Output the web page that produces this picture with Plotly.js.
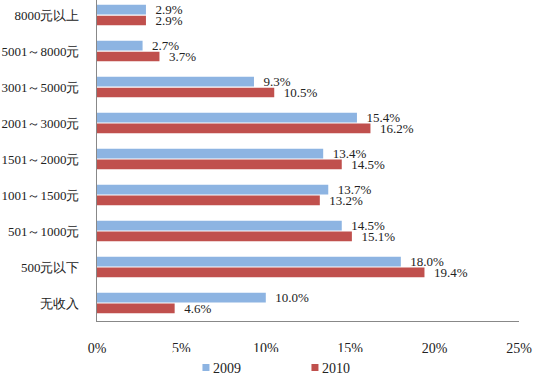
<!DOCTYPE html>
<html><head><meta charset="utf-8">
<script src="https://cdn.plot.ly/plotly-3.0.1.min.js"></script>
<style>html,body{margin:0;padding:0;background:#fff}#c{width:550px;height:388px}</style>
</head><body><div id="c"></div>
<script>
var categories = ['无收入','500元以下','501～1000元','1001～1500元','1501～2000元','2001～3000元','3001～5000元','5001～8000元','8000元以上'];
var values2009 = [10.0, 18.0, 14.5, 13.7, 13.4, 15.4, 9.3, 2.7, 2.9];
var values2010 = [4.6, 19.4, 15.1, 13.2, 14.5, 16.2, 10.5, 3.7, 2.9];
var xTicks = [0, 5, 10, 15, 20, 25];
var xTickText = ['0%', '5%', '10%', '15%', '20%', '25%'];

var fontFam = 'Liberation Serif';
function barTrace(name, vals, color) {
  return {type:'bar', orientation:'h', name:name, y:categories, x:vals,
    marker:{color:color}, texttemplate:'\u00a0\u00a0%{x:.1f}%', textposition:'outside',
    constraintext:'none', cliponaxis:false, textfont:{family:fontFam, size:13, color:'#222'}, hoverinfo:'none'};
}
var t2010 = barTrace('2010', values2010, '#C0504D');
var t2009 = barTrace('2009', values2009, '#8DB4E2');

var layout = {
  width:550, height:388, margin:{l:97, r:31, t:0, b:67},
  paper_bgcolor:'#fff', plot_bgcolor:'#fff',
  barmode:'group', bargap:0.4, bargroupgap:0.1,
  font:{family:fontFam, size:13, color:'#222'},
  showlegend:true,
  legend:{orientation:'h', traceorder:'reversed', x:0.18, xanchor:'left', y:-0.146, yanchor:'middle',
    font:{family:fontFam, size:14, color:'#222'}, entrywidth:64, entrywidthmode:'pixels', itemclick:false},
  xaxis:{range:[0,25], tickmode:'array', tickvals:xTicks, ticktext:xTickText, showgrid:false, zeroline:false,
    showline:true, linecolor:'#888', linewidth:1, ticks:'', ticklabelstandoff:14,
    tickfont:{family:fontFam, size:14, color:'#222'}, fixedrange:true},
  yaxis:{type:'category', range:[-0.5, 8.42], showgrid:false, zeroline:false,
    showline:true, linecolor:'#888', linewidth:1, ticks:'', ticklabelstandoff:14,
    tickfont:{family:fontFam, size:13, color:'#222'}, fixedrange:true}
};
Plotly.newPlot('c', [t2010, t2009], layout, {displayModeBar:false, staticPlot:true}).then(function(gd){
  gd.querySelectorAll('.legend .legendpoints path').forEach(function(p){
    p.setAttribute('d', 'M3.5,3.5H-3.5V-3.5H3.5Z');
    p.setAttribute('transform', 'translate(33,0)');
  });
});
</script></body></html>
